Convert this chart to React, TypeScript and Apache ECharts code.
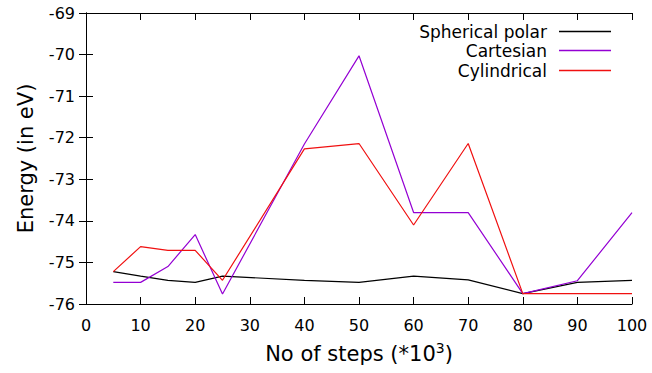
import React, { useEffect, useRef } from "react";
import * as echarts from "echarts";

const steps = [5, 10, 15, 20, 25, 40, 50, 60, 70, 80, 90, 100];
const spherical = [-75.22, -75.33, -75.43, -75.48, -75.33, -75.43, -75.48, -75.33, -75.42, -75.75, -75.48, -75.43];
const cartesian = [-75.48, -75.48, -75.1, -74.33, -75.76, -72.15, -70.03, -73.8, -73.8, -75.75, -75.44, -73.8];
const cylindrical = [-75.22, -74.62, -74.71, -74.71, -75.43, -72.27, -72.14, -74.1, -72.14, -75.75, -75.75, -75.75];
const seriesNames = ["Spherical polar", "Cartesian", "Cylindrical"];
const xTicks = { min: 0, max: 100, interval: 10 };
const yTicks = { min: -76, max: -69, interval: 1 };

const FONT = "DejaVu Sans";

export default function App() {
  const ref = useRef<HTMLDivElement>(null);
  useEffect(() => {
    if (!ref.current) return;
    const chart = echarts.init(ref.current, null, { renderer: "svg" });
    const zip = (ys: number[]) => steps.map((x, i) => [x, ys[i]]);
    const axisCommon = {
      axisLine: { show: true, lineStyle: { color: "#000", width: 1 } },
      axisTick: { show: true, inside: true, length: 7, lineStyle: { color: "#000" } },
      splitLine: { show: false },
    };
    const legendCommon = {
      right: 41,
      align: "right" as const,
      orient: "horizontal" as const,
      padding: 0,
      icon: "rect",
      itemWidth: 52,
      itemHeight: 1.5,
      textStyle: { fontFamily: FONT, fontSize: 17, color: "#000", padding: [0, 7, 0, 0] },
    };
    chart.setOption({
      animation: false,
      backgroundColor: "#fff",
      grid: { left: 86, right: 20, top: 13, bottom: 69 },
      legend: [
        { ...legendCommon, top: 23, data: [seriesNames[0]] },
        { ...legendCommon, top: 42, data: [seriesNames[1]] },
        { ...legendCommon, top: 62, data: [seriesNames[2]] },
      ],
      xAxis: [
        {
          type: "value",
          ...xTicks,
          position: "bottom",
          ...axisCommon,
          axisLabel: { fontFamily: FONT, fontSize: 16, color: "#000", margin: 13 },
          name: "No of steps (*10{sup|3})",
          nameLocation: "middle",
          nameGap: 37,
          nameTextStyle: {
            fontFamily: FONT,
            fontSize: 21,
            color: "#000",
            rich: {
              sup: { fontFamily: FONT, fontSize: 14, color: "#000", padding: [0, 0, 12, 0] },
            },
          },
        },
        {
          type: "value",
          ...xTicks,
          position: "top",
          ...axisCommon,
          axisLabel: { show: false },
        },
      ],
      yAxis: [
        {
          type: "value",
          ...yTicks,
          position: "left",
          ...axisCommon,
          axisLabel: { fontFamily: FONT, fontSize: 16, color: "#000", margin: 11 },
          name: "Energy (in eV)",
          nameLocation: "middle",
          nameGap: 50,
          nameTextStyle: { fontFamily: FONT, fontSize: 21, color: "#000" },
        },
        {
          type: "value",
          ...yTicks,
          position: "right",
          ...axisCommon,
          axisLabel: { show: false },
        },
      ],
      series: [
        { name: seriesNames[0], type: "line", data: zip(spherical), symbol: "none", color: "#000000", lineStyle: { width: 1.2 } },
        { name: seriesNames[1], type: "line", data: zip(cartesian), symbol: "none", color: "#9400d3", lineStyle: { width: 1.2 } },
        { name: seriesNames[2], type: "line", data: zip(cylindrical), symbol: "none", color: "#f01010", lineStyle: { width: 1.2 } },
      ],
    });
    return () => chart.dispose();
  }, []);
  return <div ref={ref} style={{ width: 652, height: 373, position: "absolute", left: 0, top: 0 }} />;
}
